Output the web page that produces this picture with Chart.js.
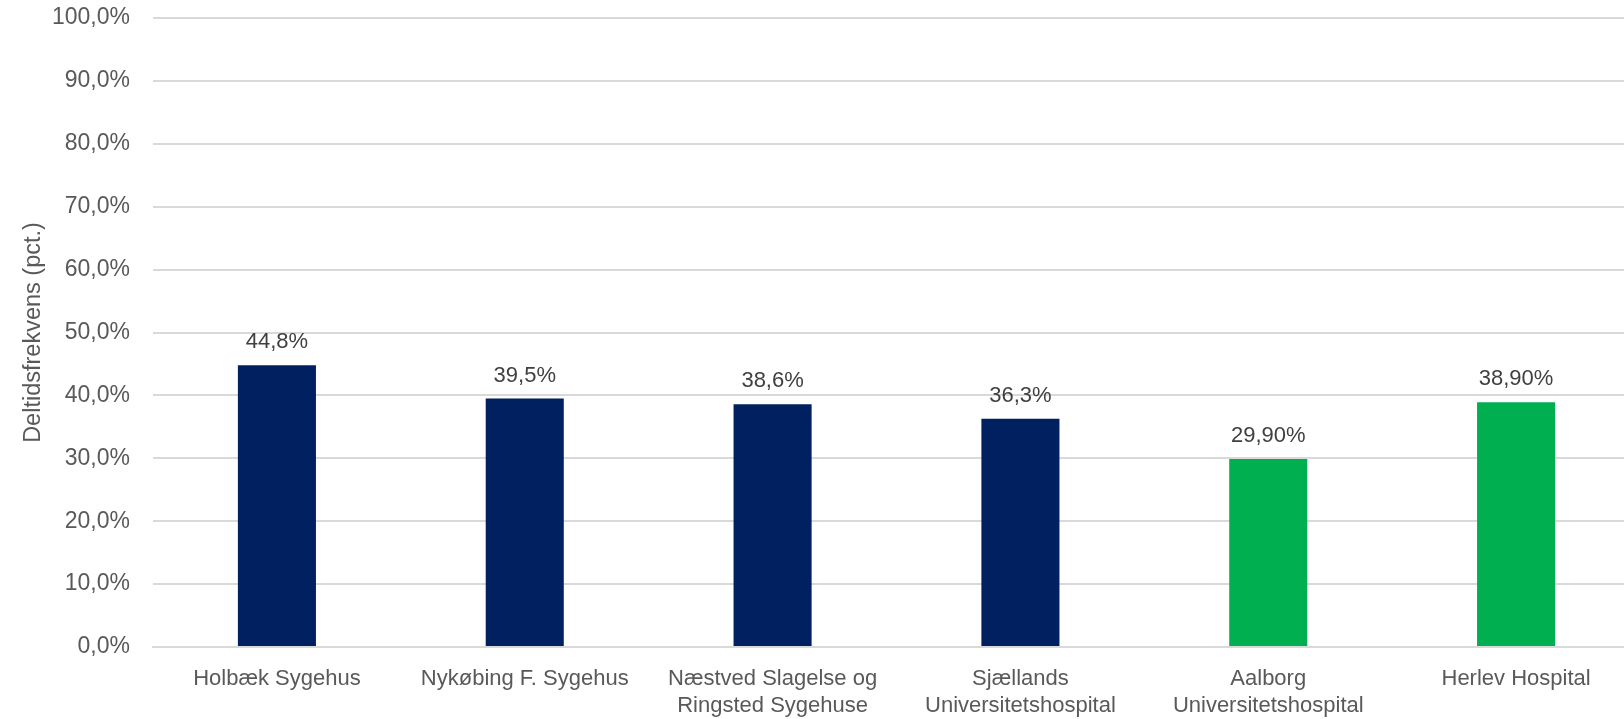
<!DOCTYPE html>
<html>
<head>
<meta charset="utf-8">
<script src="https://cdn.jsdelivr.net/npm/chart.js@4"></script>
<style>
  html, body { margin: 0; padding: 0; background: #fff; overflow: hidden; }
  #wrap { width: 1640px; height: 719px; }
</style>
</head>
<body>
<div id="wrap"><canvas id="deltid"></canvas></div>
<script>
const hospitals = [
  "Holbæk Sygehus",
  "Nykøbing F. Sygehus",
  ["Næstved Slagelse og", "Ringsted Sygehuse"],
  ["Sjællands", "Universitetshospital"],
  ["Aalborg", "Universitetshospital"],
  "Herlev Hospital",
];
const rates = [44.8, 39.5, 38.6, 36.3, 29.9, 38.9];
const rateLabels = ["44,8%", "39,5%", "38,6%", "36,3%", "29,90%", "38,90%"];
const barColors = ["#002060", "#002060", "#002060", "#002060", "#00B050", "#00B050"];

const fontFam = "'Liberation Sans', Arial, sans-serif";

// simple value labels over the bars
const valueLabels = {
  id: "valueLabels",
  afterDatasetsDraw(chart) {
    let c = chart.ctx;
    let meta = chart.getDatasetMeta(0);
    c.save();
    c.font = "22px " + fontFam;
    c.fillStyle = "#404040";
    c.textAlign = "center";
    c.textBaseline = "alphabetic";
    meta.data.forEach((bar, i) => {
      c.fillText(rateLabels[i], bar.x, bar.y - 17);
    });
    c.restore();
  },
};

let ctx = document.getElementById("deltid").getContext("2d");

var deltidChart = new Chart(ctx, {
  type: "bar",
  data: {
    labels: hospitals,
    datasets: [
      {
        label: "Deltidsfrekvens",
        data: rates,
        backgroundColor: barColors,
        borderWidth: 0,
        categoryPercentage: 1,
        barPercentage: 0.315,
      },
    ],
  },
  options: {
    responsive: true,
    maintainAspectRatio: false,
    animation: false,
    layout: { padding: 0 },
    plugins: {
      legend: { display: false },
      tooltip: { enabled: false },
    },
    scales: {
      x: {
        grid: { display: false, drawTicks: false },
        border: { display: true, color: "#d9d9d9", width: 2 },
        ticks: {
          color: "#595959",
          font: { family: fontFam, size: 22, lineHeight: 1.25 },
          padding: 18,
          maxRotation: 0,
          autoSkip: false,
        },
        afterFit(scale) {
          scale.height = 72;
        },
      },
      y: {
        min: 0,
        max: 100,
        ticks: {
          stepSize: 10,
          color: "#595959",
          font: { family: fontFam, size: 23 },
          padding: 23,
          callback: (v) => v.toFixed(1).replace(".", ",") + "%",
        },
        grid: { color: "#d9d9d9", lineWidth: 2, drawTicks: false },
        border: { display: false },
        title: {
          display: true,
          text: "Deltidsfrekvens (pct.)",
          color: "#595959",
          font: { family: fontFam, size: 23.5 },
          padding: { top: 19, bottom: 0 },
        },
        afterFit(scale) {
          scale.width = 153;
          scale.paddingTop = 18;
        },
      },
    },
  },
  plugins: [valueLabels],
});
</script>
</body>
</html>
